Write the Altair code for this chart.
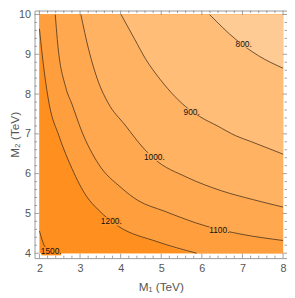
import altair as alt
import pandas as pd

# ---- contour lines (M1, M2 in TeV) ----
c1500_x = [2.0, 2.12, 2.24, 2.27]
c1500_y = [4.56, 4.19, 4.05, 4.0]
c1200_x = [2.0, 2.12, 2.24, 2.48, 2.80, 3.16, 3.45, 3.94, 4.90, 5.87]
c1200_y = [9.64, 8.55, 7.75, 6.95, 6.13, 5.43, 5.09, 4.68, 4.29, 4.0]
c1100_x = [2.39, 2.44, 2.65, 2.80, 3.04, 3.45, 4.01, 4.42, 5.07, 6.11, 6.96, 8.0]
c1100_y = [10.0, 9.37, 8.16, 7.75, 7.07, 6.25, 5.65, 5.33, 5.06, 4.68, 4.48, 4.32]
c1000_x = [3.02, 3.21, 3.45, 3.69, 4.11, 4.59, 4.83, 5.63, 6.48, 7.25, 8.0]
c1000_y = [10.0, 9.13, 8.31, 7.78, 7.22, 6.61, 6.37, 5.91, 5.57, 5.35, 5.16]
c900_x = [4.01, 4.35, 4.61, 4.98, 5.68, 5.94, 6.40, 6.84, 7.20, 8.0]
c900_y = [10.0, 9.37, 8.89, 8.36, 7.62, 7.44, 7.19, 6.95, 6.81, 6.49]
c800_x = [6.19, 6.84, 7.40, 8.0]
c800_y = [10.0, 9.37, 8.96, 8.65]

levels = [1500, 1200, 1100, 1000, 900, 800]
curves_x = [c1500_x, c1200_x, c1100_x, c1000_x, c900_x, c800_x]
curves_y = [c1500_y, c1200_y, c1100_y, c1000_y, c900_y, c800_y]

# contour labels
label_text = ["1500.", "1200.", "1100.", "1000.", "900.", "800."]
label_x = [2.29, 3.77, 6.43, 4.83, 5.75, 7.03]
label_y = [4.05, 4.80, 4.58, 6.42, 7.56, 9.25]

# plot range and ticks
x_range = [2, 8]
y_range = [4, 10]
x_major = [2, 3, 4, 5, 6, 7, 8]
y_major = [4, 5, 6, 7, 8, 9, 10]
x_minor = [2.2, 2.4, 2.6, 2.8, 3.2, 3.4, 3.6, 3.8, 4.2, 4.4, 4.6, 4.8,
           5.2, 5.4, 5.6, 5.8, 6.2, 6.4, 6.6, 6.8, 7.2, 7.4, 7.6, 7.8]
y_minor = [4.2, 4.4, 4.6, 4.8, 5.2, 5.4, 5.6, 5.8, 6.2, 6.4, 6.6, 6.8,
           7.2, 7.4, 7.6, 7.8, 8.2, 8.4, 8.6, 8.8, 9.2, 9.4, 9.6, 9.8]

# colours: region beyond 1500, then the region past each contour
region_colors = ["#ff8a1a", "#ff901f", "#ff9e3c", "#ffa84f", "#ffb261", "#ffbd77", "#ffcb94"]

W, H = 257, 252
FONT = "Liberation Sans"
GRAY = "#555555"
TICK = "#8a8a8a"

xs = alt.Scale(domain=[1.879, 8.097], nice=False, zero=False)
ys = alt.Scale(domain=[3.877, 10.099], nice=False, zero=False)

xaxis = alt.Axis(values=x_major, ticks=False, domain=False, grid=False, format="d",
                 labelFont=FONT, labelFontSize=11, labelColor=GRAY, labelPadding=5,
                 title="M₁ (TeV)", titleFont=FONT, titleFontSize=12,
                 titleFontWeight="normal", titleColor=GRAY, titlePadding=8)
yaxis = alt.Axis(values=y_major, ticks=False, domain=False, grid=False, format="d",
                 labelFont=FONT, labelFontSize=11, labelColor=GRAY, labelPadding=4,
                 title="M₂ (TeV)", titleFont=FONT, titleFontSize=12,
                 titleFontWeight="normal", titleColor=GRAY,
                 titleX=-20, titleY=H / 2, titleAngle=270, titleBaseline="middle",
                 titleAlign="center")


def X(f):
    return alt.X(f, scale=xs, axis=xaxis)


def Y(f):
    return alt.Y(f, scale=ys, axis=yaxis)


bg_df = pd.DataFrame({"x0": [x_range[0]], "x1": [x_range[1]],
                      "y0": [y_range[0]], "y1": [y_range[1]]})
bg = alt.Chart(bg_df).mark_rect(color=region_colors[0]).encode(
    x=X("x0:Q"), x2="x1:Q", y=Y("y0:Q"), y2="y1:Q",
)

layers = [bg]
for i, lev in enumerate(levels):
    xx = list(curves_x[i])
    yy = list(curves_y[i])
    if xx[-1] < x_range[1]:
        xx.append(x_range[1])
        yy.append(y_range[0])
    df = pd.DataFrame({"x": xx, "y": yy, "top": [y_range[1]] * len(xx)})
    layers.append(
        alt.Chart(df).mark_area(color=region_colors[i + 1], interpolate="monotone").encode(
            x=X("x:Q"),
            y=alt.Y("y:Q", scale=ys, axis=yaxis, stack=None),
            y2="top:Q",
        )
    )

line_rows = []
for i, lev in enumerate(levels):
    for a, b in zip(curves_x[i], curves_y[i]):
        line_rows.append({"x": a, "y": b, "level": lev})
lines = alt.Chart(pd.DataFrame(line_rows)).mark_line(
    color="#3a2a1a", strokeOpacity=0.75, strokeWidth=1, interpolate="monotone"
).encode(
    x=X("x:Q"), y=Y("y:Q"), detail="level:N",
)
layers.append(lines)


def mix(c1, c2):
    a = [int(c1[k:k + 2], 16) for k in (1, 3, 5)]
    b = [int(c2[k:k + 2], 16) for k in (1, 3, 5)]
    return "#" + "".join("%02x" % ((p + q) // 2) for p, q in zip(a, b))


lab_rows = []
for i, t in enumerate(label_text):
    w = 4.4 * (len(t) - 1) + 2.5
    lab_rows.append({"x": label_x[i], "y": label_y[i], "t": t, "s": w * w,
                     "c": mix(region_colors[i], region_colors[i + 1])})
lab_df = pd.DataFrame(lab_rows)
lab_bg = alt.Chart(lab_df).mark_point(
    shape="M-1,-0.42L1,-0.42L1,0.42L-1,0.42Z", filled=True, opacity=1, strokeWidth=0
).encode(
    x=X("x:Q"), y=Y("y:Q"),
    size=alt.Size("s:Q", scale=None),
    color=alt.Color("c:N", scale=None),
)
lab_txt = alt.Chart(lab_df).mark_text(font=FONT, fontSize=8.5, color="#111111").encode(
    x=X("x:Q"), y=Y("y:Q"), text="t:N",
)
layers += [lab_bg, lab_txt]


def xticks(vals, length):
    d = pd.DataFrame({"v": vals})
    bot = alt.Chart(d).mark_rule(color=TICK, strokeWidth=0.8).encode(
        x=X("v:Q"), y=alt.value(H), y2=alt.value(H - length))
    top = alt.Chart(d).mark_rule(color=TICK, strokeWidth=0.8).encode(
        x=X("v:Q"), y=alt.value(0), y2=alt.value(length))
    return [bot, top]


def yticks(vals, length):
    d = pd.DataFrame({"v": vals})
    left = alt.Chart(d).mark_rule(color=TICK, strokeWidth=0.8).encode(
        y=Y("v:Q"), x=alt.value(0), x2=alt.value(length))
    right = alt.Chart(d).mark_rule(color=TICK, strokeWidth=0.8).encode(
        y=Y("v:Q"), x=alt.value(W), x2=alt.value(W - length))
    return [left, right]


layers += xticks(x_major, 4.5) + xticks(x_minor, 2.5)
layers += yticks(y_major, 4.5) + yticks(y_minor, 2.5)

chart = alt.layer(*layers).properties(
    width=W, height=H,
    autosize=alt.AutoSizeParams(type="none"),
    padding={"left": 27, "top": 0, "right": 0, "bottom": 38},
).configure_view(stroke="#9a9a9a", strokeWidth=1)

chart.save("out.html", embed_options={"renderer": "svg", "actions": False})
